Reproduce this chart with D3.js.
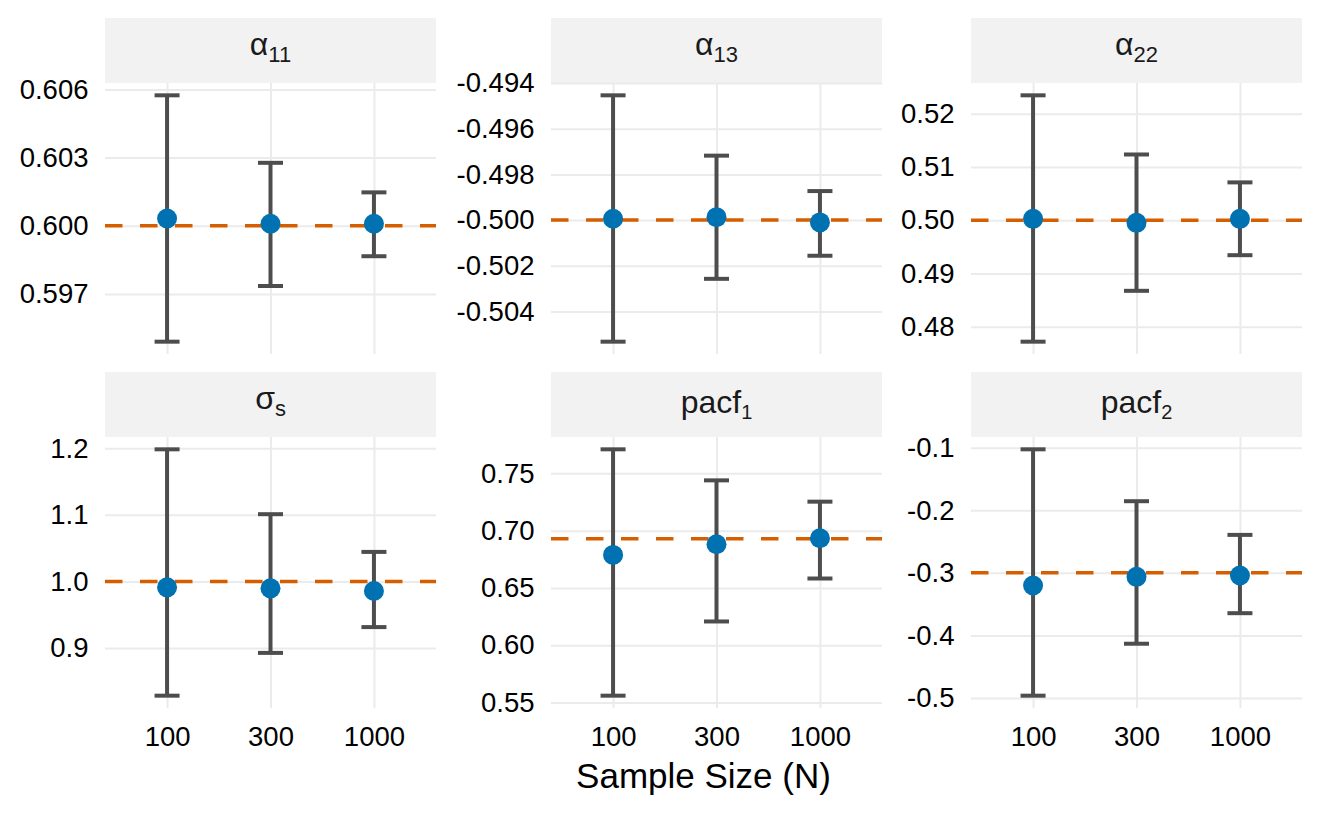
<!DOCTYPE html>
<html>
<head>
<meta charset="utf-8">
<script src="https://cdn.jsdelivr.net/npm/d3@7"></script>
<style>
  body { margin: 0; background: #fff; }
  text { font-family: "Liberation Sans", Arial, sans-serif; }
</style>
</head>
<body>
<div id="chart"></div>
<script>
// sample sizes on the x axis
const sampleSizes = ["100", "300", "1000"];

// facet labels: base symbol + subscript
const paramBase = ["α", "α", "α", "σ", "pacf", "pacf"];
const paramSub = ["11", "13", "22", "s", "1", "2"];

// true values (dashed reference line)
const trueValues = [0.6, -0.5, 0.5, 1.0, 0.693, -0.3];

// mean estimates per parameter, per sample size
const estimates = [
    [0.60032, 0.60009, 0.60009],
    [-0.49994, -0.49987, -0.5001],
    [0.50024, 0.4995, 0.50024],
    [0.991, 0.9895, 0.9855],
    [0.6788, 0.6881, 0.6934],
    [-0.3203, -0.3064, -0.3043]
];

// interval bounds
const lowerCI = [
    [0.5949, 0.59735, 0.59866],
    [-0.50532, -0.50257, -0.50156],
    [0.47718, 0.48673, 0.49342],
    [0.8282, 0.8925, 0.9313],
    [0.5559, 0.6207, 0.6582],
    [-0.4963, -0.4133, -0.3645]
];
const upperCI = [
    [0.60574, 0.60277, 0.60147],
    [-0.49454, -0.49718, -0.49873],
    [0.52344, 0.51233, 0.50709],
    [1.1985, 1.101, 1.0443],
    [0.771, 0.7439, 0.7253],
    [-0.1027, -0.1856, -0.2394]
];

// y tick labels per facet
const yTickLabels = [
    ["0.597", "0.600", "0.603", "0.606"],
    ["-0.504", "-0.502", "-0.500", "-0.498", "-0.496", "-0.494"],
    ["0.48", "0.49", "0.50", "0.51", "0.52"],
    ["0.9", "1.0", "1.1", "1.2"],
    ["0.55", "0.60", "0.65", "0.70", "0.75"],
    ["-0.5", "-0.4", "-0.3", "-0.2", "-0.1"]
];

const width = 1320, height = 814;
const panelLefts = [105, 551, 971], panelW = 331;
const stripTops = [18, 372], stripH = 65, panelH = 271;

const svg = d3.select("#chart")
    .append("svg")
    .attr("width", width)
    .attr("height", height);

paramBase.forEach((base, i) => {
    const row = Math.floor(i / 3), col = i % 3;
    const g = svg.append("g")
        .attr("transform", `translate(${panelLefts[col]},${stripTops[row] + stripH})`);

    const x = d3.scalePoint().domain(sampleSizes).range([0, panelW]).padding(0.6);

    const ext = d3.extent(lowerCI[i].concat(upperCI[i], [trueValues[i]]));
    const pad = (ext[1] - ext[0]) * 0.05;
    const y = d3.scaleLinear().domain([ext[0] - pad, ext[1] + pad]).range([panelH, 0]);

    const ticks = yTickLabels[i].map(Number);

    // strip
    g.append("rect")
        .attr("x", 0).attr("y", -stripH)
        .attr("width", panelW).attr("height", stripH)
        .attr("fill", "#f2f2f2");

    const tall = /[bdfhklpqy]/.test(base);
    const label = g.append("text")
        .attr("x", panelW / 2)
        .attr("y", -stripH / 2 + (tall ? 8.5 : 4.6))
        .attr("text-anchor", "middle")
        .attr("fill", "#1a1a1a")
        .style("font-size", "32px");
    label.append("tspan").text(base);
    label.append("tspan")
        .attr("dy", tall ? 6 : 7)
        .style("font-size", tall ? "20px" : "22px")
        .text(paramSub[i]);

    // grid
    const gy = g.append("g")
        .call(d3.axisLeft(y).tickValues(ticks).tickSize(-panelW).tickFormat(""));
    const gx = g.append("g")
        .attr("transform", `translate(0,${panelH})`)
        .call(d3.axisBottom(x).tickSize(-panelH).tickFormat(""));
    [gy, gx].forEach(a => {
        a.select(".domain").remove();
        a.selectAll("line").attr("stroke", "#ebebeb").attr("stroke-width", 2);
    });

    // y labels
    const ay = g.append("g")
        .call(d3.axisLeft(y).tickValues(ticks).tickSize(0).tickPadding(16.5)
            .tickFormat((d, j) => yTickLabels[i][j]));
    ay.select(".domain").remove();
    ay.selectAll("text").style("font-size", "27.5px").attr("fill", "#000");

    // x labels only on bottom row
    if (row === 1) {
        const ax = g.append("g")
            .attr("transform", `translate(0,${panelH})`)
            .call(d3.axisBottom(x).tickSize(0).tickPadding(18));
        ax.select(".domain").remove();
        ax.selectAll("text").style("font-size", "27.5px").attr("fill", "#000");
    }

    // true value
    g.append("line")
        .attr("x1", 0).attr("x2", panelW)
        .attr("y1", y(trueValues[i])).attr("y2", y(trueValues[i]))
        .attr("stroke", "#D55E00")
        .attr("stroke-width", 3.5)
        .attr("stroke-dasharray", "17.5,17.5");

    // error bars
    sampleSizes.forEach((n, j) => {
        const cx = x(n), lo = y(lowerCI[i][j]), hi = y(upperCI[i][j]);
        const bar = g.append("g")
            .attr("stroke", "#4d4d4d")
            .attr("stroke-width", 4);
        bar.append("line").attr("x1", cx).attr("x2", cx).attr("y1", lo).attr("y2", hi);
        bar.append("line").attr("x1", cx - 12.5).attr("x2", cx + 12.5).attr("y1", lo).attr("y2", lo);
        bar.append("line").attr("x1", cx - 12.5).attr("x2", cx + 12.5).attr("y1", hi).attr("y2", hi);
    });

    g.selectAll(".pt")
        .data(estimates[i])
        .enter().append("circle")
        .attr("cx", (d, j) => x(sampleSizes[j]))
        .attr("cy", d => y(d))
        .attr("r", 10)
        .attr("fill", "#0072B2");
});

svg.append("text")
    .attr("x", (panelLefts[0] + panelLefts[2] + panelW) / 2)
    .attr("y", 788)
    .attr("text-anchor", "middle")
    .attr("fill", "#000")
    .style("font-size", "35px")
    .text("Sample Size (N)");
</script>
</body>
</html>
